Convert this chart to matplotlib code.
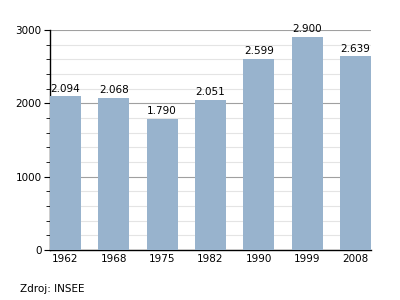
import matplotlib.pyplot as plt
from matplotlib.ticker import MultipleLocator

# Data
roky = ['1962', '1968', '1975', '1982', '1990', '1999', '2008']
obyvatele = [2094, 2068, 1790, 2051, 2599, 2900, 2639]
popisky = ['2.094', '2.068', '1.790', '2.051', '2.599', '2.900', '2.639']

fig = plt.figure(figsize=(4, 3), dpi=100)
ax = fig.add_axes([0.125, 0.1667, 0.8025, 0.7333])

sirka = 0.64
x = range(len(roky))
ax.bar(x, obyvatele, width=sirka, color='#98b3cd', zorder=3)

for xi, v, t in zip(x, obyvatele, popisky):
    ax.text(xi, v + 40, t, ha='center', va='bottom', fontsize=7.5, color='black')

ax.set_xlim(-sirka / 2, len(roky) - 1 + sirka / 2)
ax.set_ylim(0, 3000)
ax.set_xticks(list(x))
ax.set_xticklabels(roky)
ax.yaxis.set_major_locator(MultipleLocator(1000))
ax.yaxis.set_minor_locator(MultipleLocator(200))

ax.grid(axis='y', which='major', color='#a0a0a0', linewidth=0.8, zorder=0)
ax.grid(axis='y', which='minor', color='#e4e4e4', linewidth=0.8, zorder=0)

ax.spines['top'].set_visible(False)
ax.spines['right'].set_visible(False)
ax.spines['left'].set_linewidth(1)
ax.spines['bottom'].set_linewidth(1)
ax.tick_params(axis='x', length=0, labelsize=7.5, pad=3)
ax.tick_params(axis='y', which='major', length=4, labelsize=7.5, pad=2)
ax.tick_params(axis='y', which='minor', length=3)

fig.text(0.05, 0.035, 'Zdroj: INSEE', fontsize=7.5, ha='left', va='center')

fig.savefig('out.png', dpi=100)
